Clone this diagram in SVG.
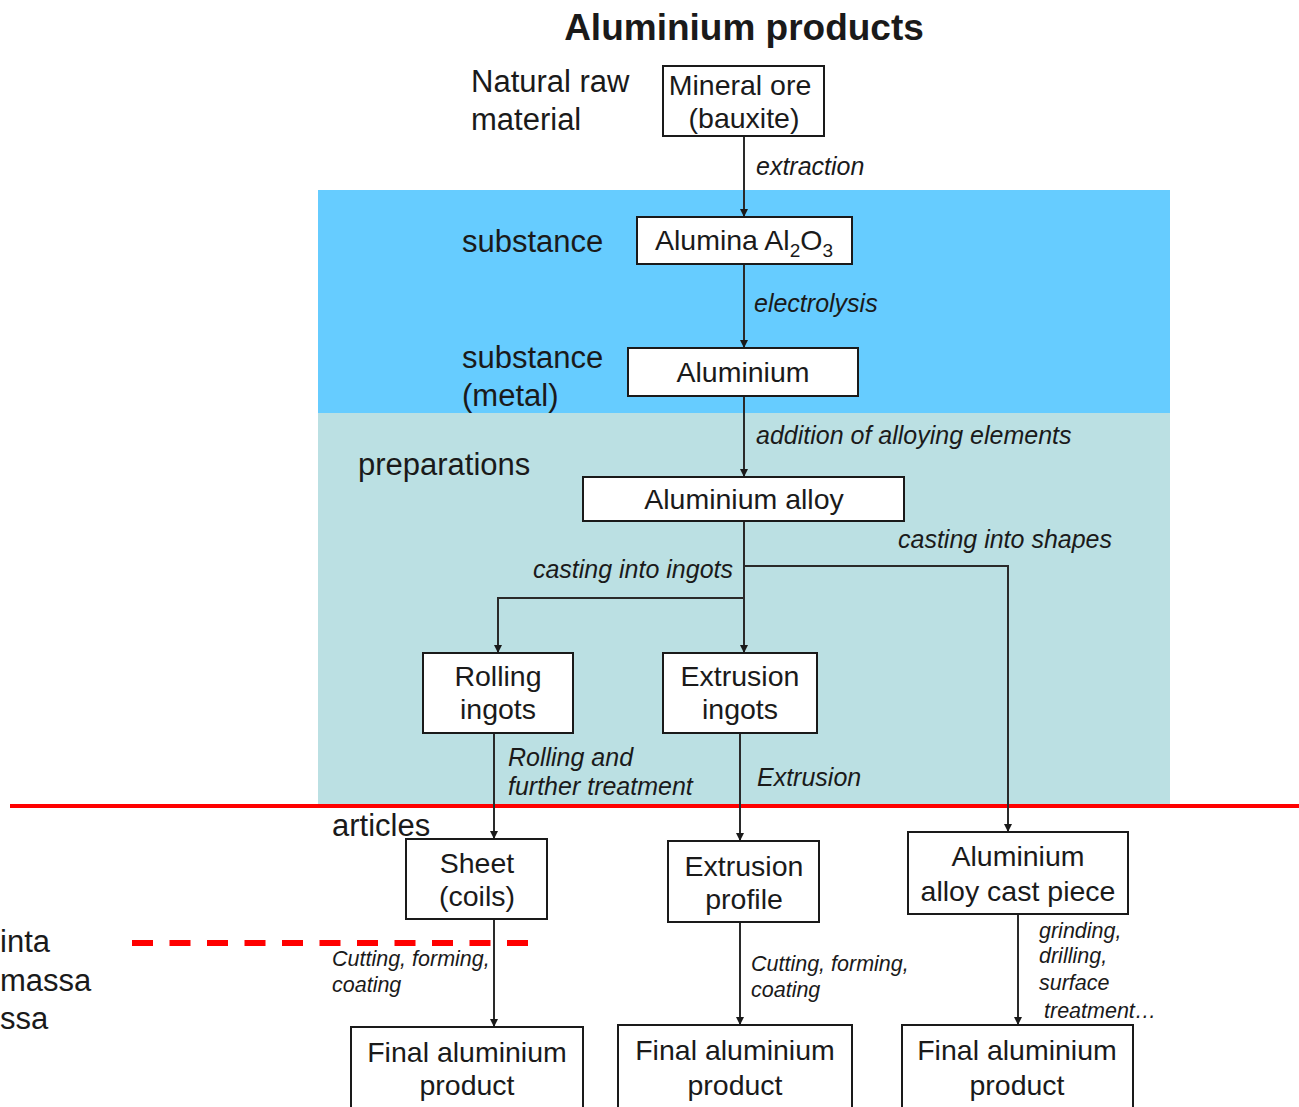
<svg xmlns="http://www.w3.org/2000/svg" width="1299" height="1107" viewBox="0 0 1299 1107">
<style>
text{font-family:"Liberation Sans",Arial,sans-serif;fill:#1a1a1a}
.title{font-size:37px;font-weight:bold;text-anchor:middle}
.side{font-size:31px}
.nt{font-size:28.5px;text-anchor:middle}
.lbl{font-size:25px;font-style:italic}
.sm{font-size:21.5px;font-style:italic}
.box{fill:#fff;stroke:#1a1a1a;stroke-width:2}
.conn path{fill:none;stroke:#2a2a2a;stroke-width:2}
</style>
<defs>
<marker id="arr" markerWidth="9" markerHeight="9" refX="8" refY="4.5" orient="auto" markerUnits="userSpaceOnUse">
<path d="M0,0.5 L8,4.5 L0,8.5 z" fill="#1a1a1a"/>
</marker>
</defs>
<rect width="1299" height="1107" fill="#fff"/>
<g id="bands">
<rect x="318" y="190" width="852" height="223" fill="#66CCFF"/>
<rect x="318" y="413" width="852" height="392" fill="#BBE0E3"/>
<line x1="10" y1="806" x2="1299" y2="806" stroke="#FF0000" stroke-width="4"/>
<line x1="132" y1="943" x2="528" y2="943" stroke="#FF0000" stroke-width="6" stroke-dasharray="21 16.5"/>
</g>
<text class="title" x="744" y="40">Aluminium products</text>
<g id="side-labels">
<text class="side" x="471" y="92">Natural raw</text>
<text class="side" x="471" y="130">material</text>
<text class="side" x="462" y="252">substance</text>
<text class="side" x="462" y="368">substance</text>
<text class="side" x="462" y="406">(metal)</text>
<text class="side" x="358" y="475">preparations</text>
<text class="side" x="332" y="836">articles</text>
<text class="side" x="0" y="952" fill="#000">inta</text>
<text class="side" x="0" y="991" fill="#000">massa</text>
<text class="side" x="0" y="1029" fill="#000">ssa</text>
</g>
<g class="conn" id="connectors">
<path d="M744,136 V217" marker-end="url(#arr)"/>
<path d="M744,264 V348" marker-end="url(#arr)"/>
<path d="M744,396 V477" marker-end="url(#arr)"/>
<path d="M744,521 V598 H498 V653" marker-end="url(#arr)"/>
<path d="M744,598 V653" marker-end="url(#arr)"/>
<path d="M744,566 H1008 V832" marker-end="url(#arr)"/>
<path d="M494,733 V839" marker-end="url(#arr)"/>
<path d="M740,733 V841" marker-end="url(#arr)"/>
<path d="M494,919 V1027" marker-end="url(#arr)"/>
<path d="M740,922 V1025" marker-end="url(#arr)"/>
<path d="M1018,914 V1025" marker-end="url(#arr)"/>
</g>
<g id="conn-labels">
<text class="lbl" x="756" y="175">extraction</text>
<text class="lbl" x="754" y="312">electrolysis</text>
<text class="lbl" x="756" y="444">addition of alloying elements</text>
<text class="lbl" x="898" y="548">casting into shapes</text>
<text class="lbl" x="733" y="578" text-anchor="end">casting into ingots</text>
<text class="lbl" x="508" y="766">Rolling and</text>
<text class="lbl" x="508" y="795">further treatment</text>
<text class="lbl" x="757" y="786">Extrusion</text>
<text class="sm" x="332" y="966">Cutting, forming,</text>
<text class="sm" x="332" y="992">coating</text>
<text class="sm" x="751" y="971">Cutting, forming,</text>
<text class="sm" x="751" y="997">coating</text>
<text class="sm" x="1039" y="938">grinding,</text>
<text class="sm" x="1039" y="963">drilling,</text>
<text class="sm" x="1039" y="990">surface</text>
<text class="sm" x="1044" y="1018">treatment…</text>
</g>
<g id="n-ore"><rect class="box" x="663" y="66" width="161" height="70"/><text class="nt" x="740" y="95">Mineral ore</text><text class="nt" x="744" y="128">(bauxite)</text></g>
<g id="n-alumina"><rect class="box" x="637" y="217" width="215" height="47"/><text class="nt" x="744" y="250">Alumina Al<tspan font-size="19" dy="7">2</tspan><tspan dy="-7">O</tspan><tspan font-size="19" dy="7">3</tspan></text></g>
<g id="n-aluminium"><rect class="box" x="628" y="348" width="230" height="48"/><text class="nt" x="743" y="382">Aluminium</text></g>
<g id="n-alloy"><rect class="box" x="583" y="477" width="321" height="44"/><text class="nt" x="744" y="509">Aluminium alloy</text></g>
<g id="n-rolling"><rect class="box" x="423" y="653" width="150" height="80"/><text class="nt" x="498" y="686">Rolling</text><text class="nt" x="498" y="719">ingots</text></g>
<g id="n-extr-ingots"><rect class="box" x="663" y="653" width="154" height="80"/><text class="nt" x="740" y="686">Extrusion</text><text class="nt" x="740" y="719">ingots</text></g>
<g id="n-sheet"><rect class="box" x="406" y="839" width="141" height="80"/><text class="nt" x="477" y="873">Sheet</text><text class="nt" x="477" y="906">(coils)</text></g>
<g id="n-profile"><rect class="box" x="668" y="841" width="151" height="81"/><text class="nt" x="744" y="876">Extrusion</text><text class="nt" x="744" y="909">profile</text></g>
<g id="n-cast"><rect class="box" x="908" y="832" width="220" height="82"/><text class="nt" x="1018" y="866">Aluminium</text><text class="nt" x="1018" y="901">alloy cast piece</text></g>
<g id="n-final1"><rect class="box" x="351" y="1027" width="232" height="90"/><text class="nt" x="467" y="1062">Final aluminium</text><text class="nt" x="467" y="1095">product</text></g>
<g id="n-final2"><rect class="box" x="618" y="1025" width="234" height="92"/><text class="nt" x="735" y="1060">Final aluminium</text><text class="nt" x="735" y="1095">product</text></g>
<g id="n-final3"><rect class="box" x="902" y="1025" width="231" height="92"/><text class="nt" x="1017" y="1060">Final aluminium</text><text class="nt" x="1017" y="1095">product</text></g>
</svg>
